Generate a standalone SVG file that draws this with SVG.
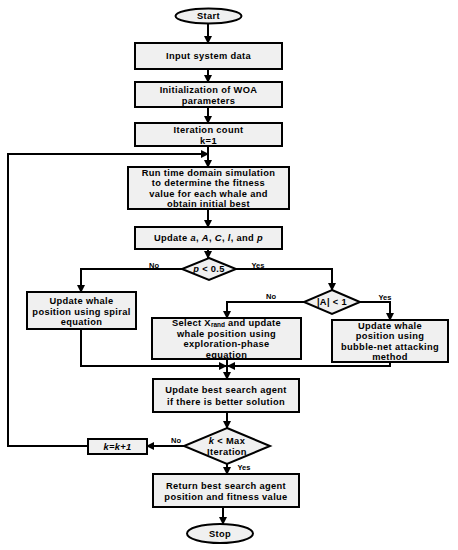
<svg xmlns="http://www.w3.org/2000/svg" width="458" height="550" viewBox="0 0 458 550">
<defs>
<marker id="ah" markerWidth="8" markerHeight="8" refX="7" refY="4" orient="auto" markerUnits="userSpaceOnUse">
<path d="M0,0 L8,4 L0,8 Z" fill="#000"/>
</marker>
<style>
.n{fill:#f0f0f0;stroke:#000;stroke-width:2}
.t{font-family:"Liberation Sans",Arial,sans-serif;font-size:9.3px;font-weight:bold;letter-spacing:0.35px;fill:#000;text-anchor:middle}
.l{font-family:"Liberation Sans",Arial,sans-serif;font-size:7.5px;font-weight:bold;fill:#000;text-anchor:middle}
.c{fill:none;stroke:#000;stroke-width:2}
.a{marker-end:url(#ah)}
</style>
</defs>
<rect width="458" height="550" fill="#fff"/>
<g id="connectors">
<path class="c a" d="M208,24 V43"/>
<path class="c a" d="M208,69 V82"/>
<path class="c a" d="M208,107 V123"/>
<path class="c a" d="M208,146 V167"/>
<path class="c a" d="M88,446 H8 V154 H208"/>
<path class="c a" d="M208,209 V227"/>
<path class="c a" d="M208,249 V258"/>
<path class="c a" d="M182,269 H81 V292"/>
<path class="c a" d="M236,269 H332 V290"/>
<path class="c a" d="M304,302 H227 V318"/>
<path class="c a" d="M360,302 H390 V320"/>
<path class="c a" d="M81,329 V366 H226"/>
<path class="c a" d="M390,362 V366 H228"/>
<path class="c a" d="M227,359 V379"/>
<path class="c a" d="M227,412 V428"/>
<path class="c a" d="M184,446 H147"/>
<path class="c a" d="M227,464 V474"/>
<path class="c a" d="M223,507 V524"/>
<text class="l" x="154" y="267.5">No</text>
<text class="l" x="258" y="267.5">Yes</text>
<text class="l" x="271" y="299">No</text>
<text class="l" x="385" y="300">Yes</text>
<text class="l" x="176" y="443">No</text>
<text class="l" x="244" y="470">Yes</text>
</g>
<g id="start">
<ellipse class="n" cx="208.5" cy="16" rx="33" ry="7.5"/>
<text class="t" x="208.5" y="19.4">Start</text>
</g>
<g id="input">
<rect class="n" x="135" y="43" width="147" height="26"/>
<text class="t" x="208.5" y="59.4">Input system data</text>
</g>
<g id="init">
<rect class="n" x="135" y="82" width="147" height="25"/>
<text class="t" x="208.5" y="93.4">Initialization of WOA</text>
<text class="t" x="208.5" y="104.2">parameters</text>
</g>
<g id="iter">
<rect class="n" x="135" y="123" width="147" height="23"/>
<text class="t" x="208.5" y="133">Iteration count</text>
<text class="t" x="208.5" y="143.8">k=1</text>
</g>
<g id="run">
<rect class="n" x="128" y="167" width="161" height="42"/>
<text class="t" x="208.5" y="175.6">Run time domain simulation</text>
<text class="t" x="208.5" y="186.1">to determine the fitness</text>
<text class="t" x="208.5" y="196.6">value for each whale and</text>
<text class="t" x="208.5" y="207.1">obtain initial best</text>
</g>
<g id="update">
<rect class="n" x="135" y="227" width="147" height="22"/>
<text class="t" x="208.5" y="241.4">Update <tspan font-style="italic">a</tspan>, <tspan font-style="italic">A</tspan>, <tspan font-style="italic">C</tspan>, <tspan font-style="italic">l</tspan>, and <tspan font-style="italic">p</tspan></text>
</g>
<g id="d1">
<polygon class="n" points="209,258 236,269 209,280 182,269"/>
<text class="t" x="209" y="272.4"><tspan font-style="italic">p</tspan> &lt; 0.5</text>
</g>
<g id="spiral">
<rect class="n" x="27" y="292" width="109" height="37"/>
<text class="t" x="81.5" y="304">Update whale</text>
<text class="t" x="81.5" y="314.5">position using spiral</text>
<text class="t" x="81.5" y="325">equation</text>
</g>
<g id="d2">
<polygon class="n" points="332,290 360,302 332,314 304,302"/>
<text class="t" x="332" y="305.4">|A| &lt; 1</text>
</g>
<g id="select">
<rect class="n" x="152" y="318" width="149" height="41"/>
<text class="t" x="226.5" y="325.6">Select X<tspan font-size="6.5" dy="1.5" letter-spacing="0">rand</tspan><tspan dy="-1.5"> and update</tspan></text>
<text class="t" x="226.5" y="336.6">whale position using</text>
<text class="t" x="226.5" y="347.1">exploration-phase</text>
<text class="t" x="226.5" y="357.6">equation</text>
</g>
<g id="bubble">
<rect class="n" x="332" y="320" width="116" height="42"/>
<text class="t" x="390" y="328.5">Update whale</text>
<text class="t" x="390" y="339">position using</text>
<text class="t" x="390" y="349.5">bubble-net attacking</text>
<text class="t" x="390" y="360">method</text>
</g>
<g id="best">
<rect class="n" x="153" y="379" width="146" height="33"/>
<text class="t" x="226" y="393">Update best search agent</text>
<text class="t" x="226" y="404.5">if there is better solution</text>
</g>
<g id="d3">
<polygon class="n" points="227,428 270,446 227,464 184,446"/>
<text class="t" x="227" y="444.3"><tspan font-style="italic">k</tspan> &lt; Max</text>
<text class="t" x="227" y="455.3">Iteration</text>
</g>
<g id="kinc">
<rect class="n" x="88" y="439" width="59" height="15"/>
<text class="t" x="117.5" y="449.8" font-style="italic">k=k+1</text>
</g>
<g id="ret">
<rect class="n" x="153" y="474" width="146" height="33"/>
<text class="t" x="226" y="488.5">Return best search agent</text>
<text class="t" x="226" y="500">position and fitness value</text>
</g>
<g id="stop">
<ellipse class="n" cx="220" cy="533.5" rx="33" ry="9.5"/>
<text class="t" x="220" y="536.9">Stop</text>
</g>
</svg>
